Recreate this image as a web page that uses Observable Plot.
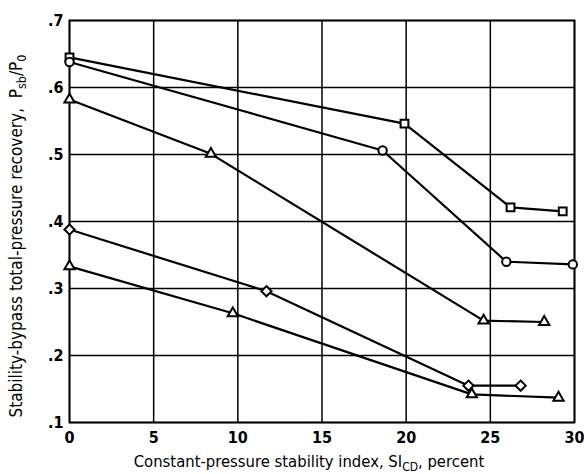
<!DOCTYPE html>
<html><head><meta charset="utf-8">
<script src="https://cdn.jsdelivr.net/npm/d3@7"></script>
<script src="https://cdn.jsdelivr.net/npm/@observablehq/plot@0.6"></script>
<style>
body{margin:0;background:#fff;}
svg{font-family:"DejaVu Sans Condensed","Liberation Sans Narrow",sans-serif;}
</style></head><body><div id="chart"></div>
<script>
const xTicks = [0, 5, 10, 15, 20, 25, 30];
const yTicks = [0.1, 0.2, 0.3, 0.4, 0.5, 0.6, 0.7];

const squareX = [0, 19.9, 26.2, 29.3];
const squareY = [0.645, 0.546, 0.421, 0.415];
const circleX = [0, 18.6, 25.95, 29.9];
const circleY = [0.638, 0.506, 0.340, 0.336];
const triUpX = [0, 8.4, 24.6, 28.2];
const triUpY = [0.582, 0.501, 0.252, 0.250];
const diamondX = [0, 11.7, 23.7, 26.8];
const diamondY = [0.388, 0.296, 0.155, 0.155];
const triLowX = [0, 9.7, 23.9, 29.05];
const triLowY = [0.333, 0.263, 0.142, 0.137];

const series = [
  {name: "square", symbol: "square", r: 4.4, xs: squareX, ys: squareY},
  {name: "circle", symbol: "circle", r: 4.2, xs: circleX, ys: circleY},
  {name: "triUp", symbol: "triangle", r: 3.8, xs: triUpX, ys: triUpY},
  {name: "diamond", symbol: "diamond2", r: 4.6, xs: diamondX, ys: diamondY},
  {name: "triLow", symbol: "triangle", r: 3.8, xs: triLowX, ys: triLowY}
];
const data = series.flatMap(s => s.xs.map((x, i) => ({series: s.name, symbol: s.symbol, r: s.r, x, y: s.ys[i]})));

const fmtY = d => d.toFixed(1).replace(/^0/, "");
const FONT = "'DejaVu Sans Condensed','Liberation Sans Narrow',sans-serif";

const chart = Plot.plot({
  width: 584,
  height: 474,
  marginLeft: 69,
  marginRight: 10,
  marginTop: 20,
  marginBottom: 52,
  style: {fontSize: "16px", fontFamily: FONT, color: "#000", background: "#fff"},
  x: {domain: [0, 30], ticks: xTicks, label: null},
  y: {domain: [0.1, 0.7], ticks: yTicks, label: null, tickFormat: fmtY},
  symbol: {type: "identity"},
  r: {type: "identity"},
  marks: [
    Plot.gridX(xTicks, {stroke: "#000", strokeOpacity: 1, strokeWidth: 1.5}),
    Plot.gridY(yTicks, {stroke: "#000", strokeOpacity: 1, strokeWidth: 1.5}),
    Plot.frame({stroke: "#000", strokeWidth: 1.8}),
    Plot.axisX(xTicks, {tickSize: 0, tickPadding: 9, fontSize: 16, fontWeight: 600}),
    Plot.axisY(yTicks, {tickSize: 0, tickPadding: 6, fontSize: 16, fontWeight: 600, tickFormat: fmtY}),
    Plot.line(data, {x: "x", y: "y", z: "series", stroke: "#000", strokeWidth: 2.2}),
    Plot.dot(data, {x: "x", y: "y", symbol: "symbol", r: "r", stroke: "#000", strokeWidth: 2, fill: "#fff"})
  ]
});
chart.setAttribute("font-family", FONT);
const svg = d3.select(chart);
const xl = svg.append("text")
  .attr("x", 69 + 240).attr("y", 467)
  .attr("text-anchor", "middle").attr("font-size", 16.5).attr("font-weight", 500).attr("fill", "#000");
xl.append("tspan").text("Constant-pressure stability index, SI");
xl.append("tspan").attr("font-size", 12).attr("dy", 4).text("CD");
xl.append("tspan").attr("dy", -4).text(", percent");

const yl = svg.append("text")
  .attr("transform", "translate(22," + 236 + ") rotate(-90)")
  .attr("text-anchor", "middle").attr("font-size", 17).attr("font-weight", 500).attr("fill", "#000");
yl.append("tspan").text("Stability-bypass total-pressure recovery,  P");
yl.append("tspan").attr("font-size", 12.5).attr("dy", 4).text("sb");
yl.append("tspan").attr("dy", -4).text("/P");
yl.append("tspan").attr("font-size", 12.5).attr("dy", 4).text("0");

document.getElementById("chart").appendChild(chart);
</script></body></html>
